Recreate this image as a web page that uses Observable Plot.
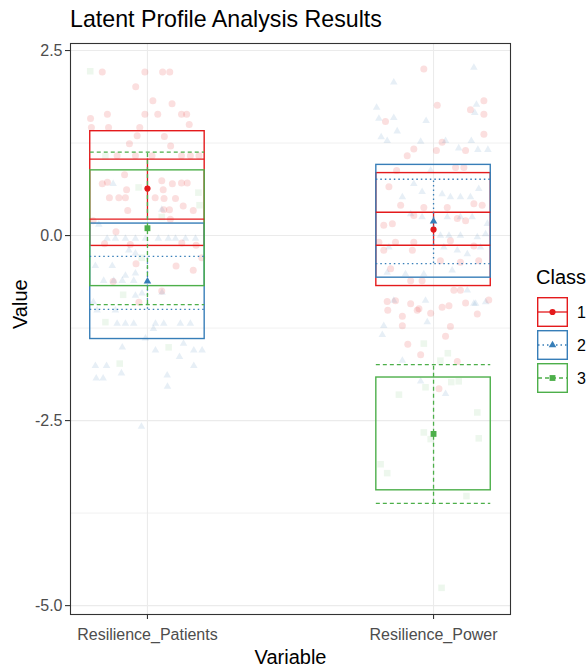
<!DOCTYPE html>
<html><head><meta charset="utf-8">
<script src="https://cdn.jsdelivr.net/npm/d3@7"></script>
<script src="https://cdn.jsdelivr.net/npm/@observablehq/plot@0.6"></script>
<style>
body{margin:0;background:#fff;font-family:"Liberation Sans",Arial,sans-serif;}
#wrap{position:relative;width:588px;height:667px;overflow:hidden;background:#fff;}
#title{position:absolute;left:70px;top:8px;font-size:23.2px;color:#000;line-height:1;white-space:nowrap;}
#chart{position:absolute;left:0;top:36px;}
#legend{position:absolute;left:530px;top:258px;}
</style></head><body>
<div id="wrap"><div id="title">Latent Profile Analysis Results</div><div id="chart"></div><div id="legend"></div></div>
<script>
// ---------- data ----------
const categories = ["Resilience_Patients", "Resilience_Power"];
const classes = ["1", "2", "3"];
const classColors = ["#E41A1C", "#377EB8", "#4DAF4A"];
const classSymbols = ["circle", "triangle", "square"];
const classDash = [null, "1.5,3", "4,3"];
const yTicks = [-5, -2.5, 0, 2.5];
const yMinorTicks = [-3.75, -1.25, 1.25];

// profile estimates per class (1,2,3)
const meanPatients = [0.635, -0.618, 0.099];
const sdPatients   = [0.775, 0.780, 0.782];
const ciLoPatients = [0.223, -0.996, -0.932];
const ciHiPatients = [1.034, -0.280, 1.126];

const meanPower = [0.081, 0.193, -2.680];
const sdPower   = [0.763, 0.762, 0.762];
const ciLoPower = [-0.131, -0.378, -3.618];
const ciHiPower = [0.315, 0.761, -1.743];

// raw observations: [jitter offset, value]
const rawPatients1 = [[-0.158,2.21],[-0.009,2.21],[0.053,2.21],[0.078,2.21],[-0.041,2.01],[0.019,1.82],[0.086,1.78],[-0.199,1.58],[-0.14,1.64],[-0.009,1.64],[0.036,1.64],[0.119,1.64],[0.137,1.64],[-0.196,1.46],[-0.136,1.46],[-0.027,1.46],[0.146,1.5],[-0.036,1.35],[0.059,1.34],[-0.063,1.24],[0.081,1.21],[-0.106,1.08],[-0.042,1.08],[0.016,1.08],[0.119,1.08],[0.15,1.08],[0.18,1.08],[-0.08,0.82],[-0.158,0.7],[-0.14,0.72],[0.05,0.74],[0.087,0.7],[0.119,0.71],[0.139,0.71],[-0.073,0.62],[0.055,0.62],[-0.133,0.51],[-0.1,0.51],[-0.077,0.51],[0.027,0.51],[0.058,0.5],[0.098,0.5],[-0.069,0.34],[0.057,0.35],[0.077,0.35],[0.125,0.4],[0.16,0.34],[-0.11,0.05],[-0.15,-0.11],[-0.06,-0.12],[0.12,-0.1],[0.17,-0.13],[-0.19,0.2],[0.08,0.22],[-0.04,-0.38],[0.1,-0.41],[0.16,-0.47],[-0.12,-0.62],[0.05,-0.75],[0.19,-0.3],[-0.03,-0.9]];
const rawPatients2 = [[-0.141,-0.04],[-0.112,-0.04],[-0.077,-0.04],[-0.042,-0.04],[-0.007,-0.04],[0.038,-0.04],[0.073,-0.04],[0.098,-0.04],[0.133,-0.04],[0.168,-0.04],[-0.182,-0.41],[-0.123,-0.41],[-0.042,-0.24],[-0.065,-0.2],[-0.077,-0.54],[-0.042,-0.51],[-0.153,-0.61],[-0.118,-0.61],[-0.088,-0.61],[-0.048,-0.61],[0.051,-0.77],[-0.019,-0.78],[-0.042,-0.81],[-0.189,-0.9],[-0.112,-1.01],[-0.176,-1.01],[-0.106,-1.19],[-0.077,-1.19],[-0.048,-1.19],[0.028,-1.19],[0.057,-1.19],[0.115,-1.19],[0.15,-1.19],[0.021,-1.26],[-0.007,-1.39],[-0.088,-1.51],[0.028,-1.55],[0.126,-1.46],[0.162,-1.55],[0.191,-1.55],[0.112,-1.64],[-0.182,-1.76],[-0.143,-1.76],[-0.091,-1.86],[0.069,-1.89],[0.162,-1.76],[-0.179,-1.93],[-0.155,-1.93],[0.07,-2.04],[-0.021,-2.58],[-0.12,0.7],[0.05,0.35],[-0.17,0.15]];
const rawPatients3 = [[-0.2,2.22],[-0.031,0.65],[0.178,0.58],[0.182,0.41],[-0.147,1.07],[-0.085,-0.8],[0.074,-1.51],[-0.097,-1.73],[-0.147,-1.17],[0.05,0.25],[-0.02,-0.3]];

const rawPower1 = [[-0.034,2.25],[0.013,1.76],[0.176,1.82],[0.129,1.7],[0.176,1.64],[-0.168,1.54],[0.176,1.37],[-0.069,1.17],[-0.092,1.08],[0.01,1.15],[0.03,1.26],[0.112,1.15],[-0.129,0.88],[0.077,0.92],[0.106,0.92],[-0.156,0.66],[-0.115,0.41],[-0.034,0.38],[0.048,0.38],[0.141,0.43],[0.17,0.41],[-0.174,0.14],[-0.144,0.16],[-0.069,0.27],[0.083,0.23],[0.112,0.2],[-0.191,-0.09],[-0.133,-0.09],[-0.069,-0.09],[0.059,-0.07],[0.141,-0.14],[-0.174,-0.2],[-0.074,-0.2],[0.024,-0.34],[0.094,-0.36],[0.158,-0.34],[-0.15,-0.45],[-0.08,-0.61],[-0.04,-0.61],[0.071,-0.74],[0.094,-0.74],[-0.162,-0.89],[-0.133,-0.88],[-0.08,-0.92],[-0.051,-0.99],[-0.109,-1.09],[0.03,-0.97],[0.054,-0.95],[0.193,-0.87],[-0.01,-1.05],[-0.16,-1.01],[-0.057,-1.01],[0.112,-0.91],[0.153,-1.06],[-0.109,-1.22],[0.059,-1.23],[0.042,-1.36],[-0.09,-1.47],[-0.045,-1.61],[0.083,-1.7],[0.019,-2.07]];
const rawPower2 = [[0.141,2.27],[-0.139,2.07],[-0.199,1.73],[0.15,1.77],[0.144,1.66],[-0.191,1.58],[-0.139,1.59],[-0.026,1.55],[-0.127,1.41],[-0.183,1.33],[-0.162,1.28],[-0.045,1.27],[0.042,1.28],[0.088,1.18],[0.132,1.28],[0.155,1.16],[0.19,1.16],[-0.01,0.88],[-0.069,0.7],[-0.04,0.59],[-0.109,0.52],[0.03,0.56],[0.059,0.52],[0.094,0.52],[0.129,0.52],[0.158,0.63],[-0.08,0.29],[-0.04,0.25],[0.048,0.25],[0.094,0.25],[0.135,0.25],[0.188,0.16],[0.024,0],[0.054,0],[0.094,0],[0.153,-0.02],[0.182,0.02],[-0.156,-0.16],[0.036,-0.16],[0.083,-0.2],[0.118,-0.25],[0.164,-0.16],[-0.162,-0.5],[-0.098,-0.52],[-0.034,-0.52],[0.065,-0.47],[-0.139,-0.88],[-0.028,-0.88],[0.118,-0.74],[0.147,-0.92],[-0.174,-1.22],[-0.179,-1.34],[-0.022,-1.17],[0.141,-0.92],[0.182,-0.9],[-0.109,-1.69],[-0.045,-1.97],[0.042,-2.14]];
const rawPower3 = [[-0.034,-1.46],[0.05,-1.59],[0.024,-1.69],[-0.028,-2.05],[-0.121,-2.15],[0.062,-1.98],[0.088,-1.97],[0.153,-2.39],[-0.034,-2.66],[-0.01,-2.75],[0.158,-2.74],[-0.185,-3.09],[-0.162,-3.21],[0.115,-3.52],[0.028,-4.76]];

// ---------- tables built from the arrays ----------
const rawByVar = [[rawPatients1, rawPatients2, rawPatients3], [rawPower1, rawPower2, rawPower3]];
const summaryByVar = [
  {mean: meanPatients, sd: sdPatients, lo: ciLoPatients, hi: ciHiPatients},
  {mean: meanPower, sd: sdPower, lo: ciLoPower, hi: ciHiPower}
];
const raw = [];
rawByVar.forEach((byClass, vi) => byClass.forEach((arr, ci) => arr.forEach(([j, v]) => raw.push({pos: vi + 1 + j, value: v, cls: ci}))));
const summary = [];
summaryByVar.forEach((s, vi) => classes.forEach((c, ci) => summary.push({pos: vi + 1, cls: ci, mean: s.mean[ci], sd: s.sd[ci], lo: s.lo[ci], hi: s.hi[ci]})));
const caps = summary.flatMap(d => [{pos: d.pos, cls: d.cls, v: d.lo}, {pos: d.pos, cls: d.cls, v: d.hi}]);

const half = 0.2;
const rawAlpha = [0.14, 0.12, 0.1];
const rawR = [3.5, 2.8, 3.7];
const meanR = [3.1, 2.8, 3.3];

const marks = [
  Plot.gridX([1, 2], {stroke: "#EBEBEB", strokeOpacity: 1, strokeWidth: 1.1}),
  Plot.gridY(yMinorTicks, {stroke: "#EBEBEB", strokeOpacity: 1, strokeWidth: 0.7}),
  Plot.gridY(yTicks, {stroke: "#EBEBEB", strokeOpacity: 1, strokeWidth: 1.1})
];
classes.forEach((c, ci) => {
  marks.push(Plot.dot(raw.filter(d => d.cls === ci), {x: "pos", y: "value", symbol: classSymbols[ci], r: rawR[ci], fill: classColors[ci], fillOpacity: rawAlpha[ci], stroke: "none"}));
});
classes.forEach((c, ci) => {
  marks.push(Plot.rect(summary.filter(d => d.cls === ci), {x1: d => d.pos - half, x2: d => d.pos + half, y1: d => d.mean - d.sd, y2: d => d.mean + d.sd, fill: "none", stroke: classColors[ci], strokeWidth: 1.4}));
});
classes.forEach((c, ci) => {
  marks.push(Plot.ruleX(summary.filter(d => d.cls === ci), {x: "pos", y1: "lo", y2: "hi", stroke: classColors[ci], strokeWidth: 1.3, strokeDasharray: classDash[ci]}));
  marks.push(Plot.ruleY(caps.filter(d => d.cls === ci), {y: "v", x1: d => d.pos - half, x2: d => d.pos + half, stroke: classColors[ci], strokeWidth: 1.3, strokeDasharray: classDash[ci]}));
});
classes.forEach((c, ci) => {
  marks.push(Plot.dot(summary.filter(d => d.cls === ci), {x: "pos", y: "mean", symbol: classSymbols[ci], r: meanR[ci], fill: classColors[ci], stroke: "none"}));
});
marks.push(
  Plot.frame({stroke: "#333333", strokeWidth: 1.1}),
  Plot.axisY({ticks: yTicks, tickFormat: d => d.toFixed(1), fontSize: 16, tickSize: 5, tickPadding: 3, stroke: "#333333", strokeWidth: 1.1, fill: "#4D4D4D", label: null}),
  Plot.axisX({ticks: [1, 2], tickFormat: d => categories[d - 1], fontSize: 16, tickSize: 5, tickPadding: 9, stroke: "#333333", strokeWidth: 1.1, fill: "#4D4D4D", label: null}),
  Plot.text(["Value"], {frameAnchor: "left", dx: -50, rotate: -90, fontSize: 20, fill: "#000"}),
  Plot.text(["Variable"], {frameAnchor: "bottom", dy: 49, fontSize: 20, fill: "#000"})
);

const chart = Plot.plot({
  width: 588,
  height: 631,
  marginTop: 7,
  marginBottom: 53,
  marginLeft: 70,
  marginRight: 78,
  style: {fontFamily: '"Liberation Sans", Arial, sans-serif', background: "transparent", overflow: "visible"},
  x: {domain: [0.731, 2.269]},
  y: {domain: [-5.12, 2.595]},
  marks
});
document.getElementById("chart").append(chart);

// ---------- legend ----------
const lg = d3.select("#legend").append("svg").attr("width", 58).attr("height", 140)
  .style("font-family", '"Liberation Sans", Arial, sans-serif').style("overflow", "visible");
lg.append("text").attr("x", 6).attr("y", 26).attr("font-size", 20).attr("fill", "#000").text("Class");
const symType = {circle: d3.symbolCircle, triangle: d3.symbolTriangle, square: d3.symbolSquare};
classes.forEach((c, ci) => {
  const g = lg.append("g").attr("transform", `translate(7,${39 + 33 * ci})`);
  g.append("rect").attr("x", 0.7).attr("y", 0.7).attr("width", 29.6).attr("height", 28.6)
    .attr("fill", "#fff").attr("stroke", classColors[ci]).attr("stroke-width", 1.4);
  g.append("line").attr("x1", 1).attr("x2", 30).attr("y1", 15).attr("y2", 15)
    .attr("stroke", classColors[ci]).attr("stroke-width", 1.3).attr("stroke-dasharray", classDash[ci]);
  g.append("path").attr("transform", "translate(15.5,15)")
    .attr("d", d3.symbol(symType[classSymbols[ci]], Math.PI * meanR[ci] * meanR[ci])())
    .attr("fill", classColors[ci]);
  lg.append("text").attr("x", 47).attr("y", 39 + 33 * ci + 20.5).attr("font-size", 16).attr("fill", "#000").text(c);
});
</script>
</body></html>
